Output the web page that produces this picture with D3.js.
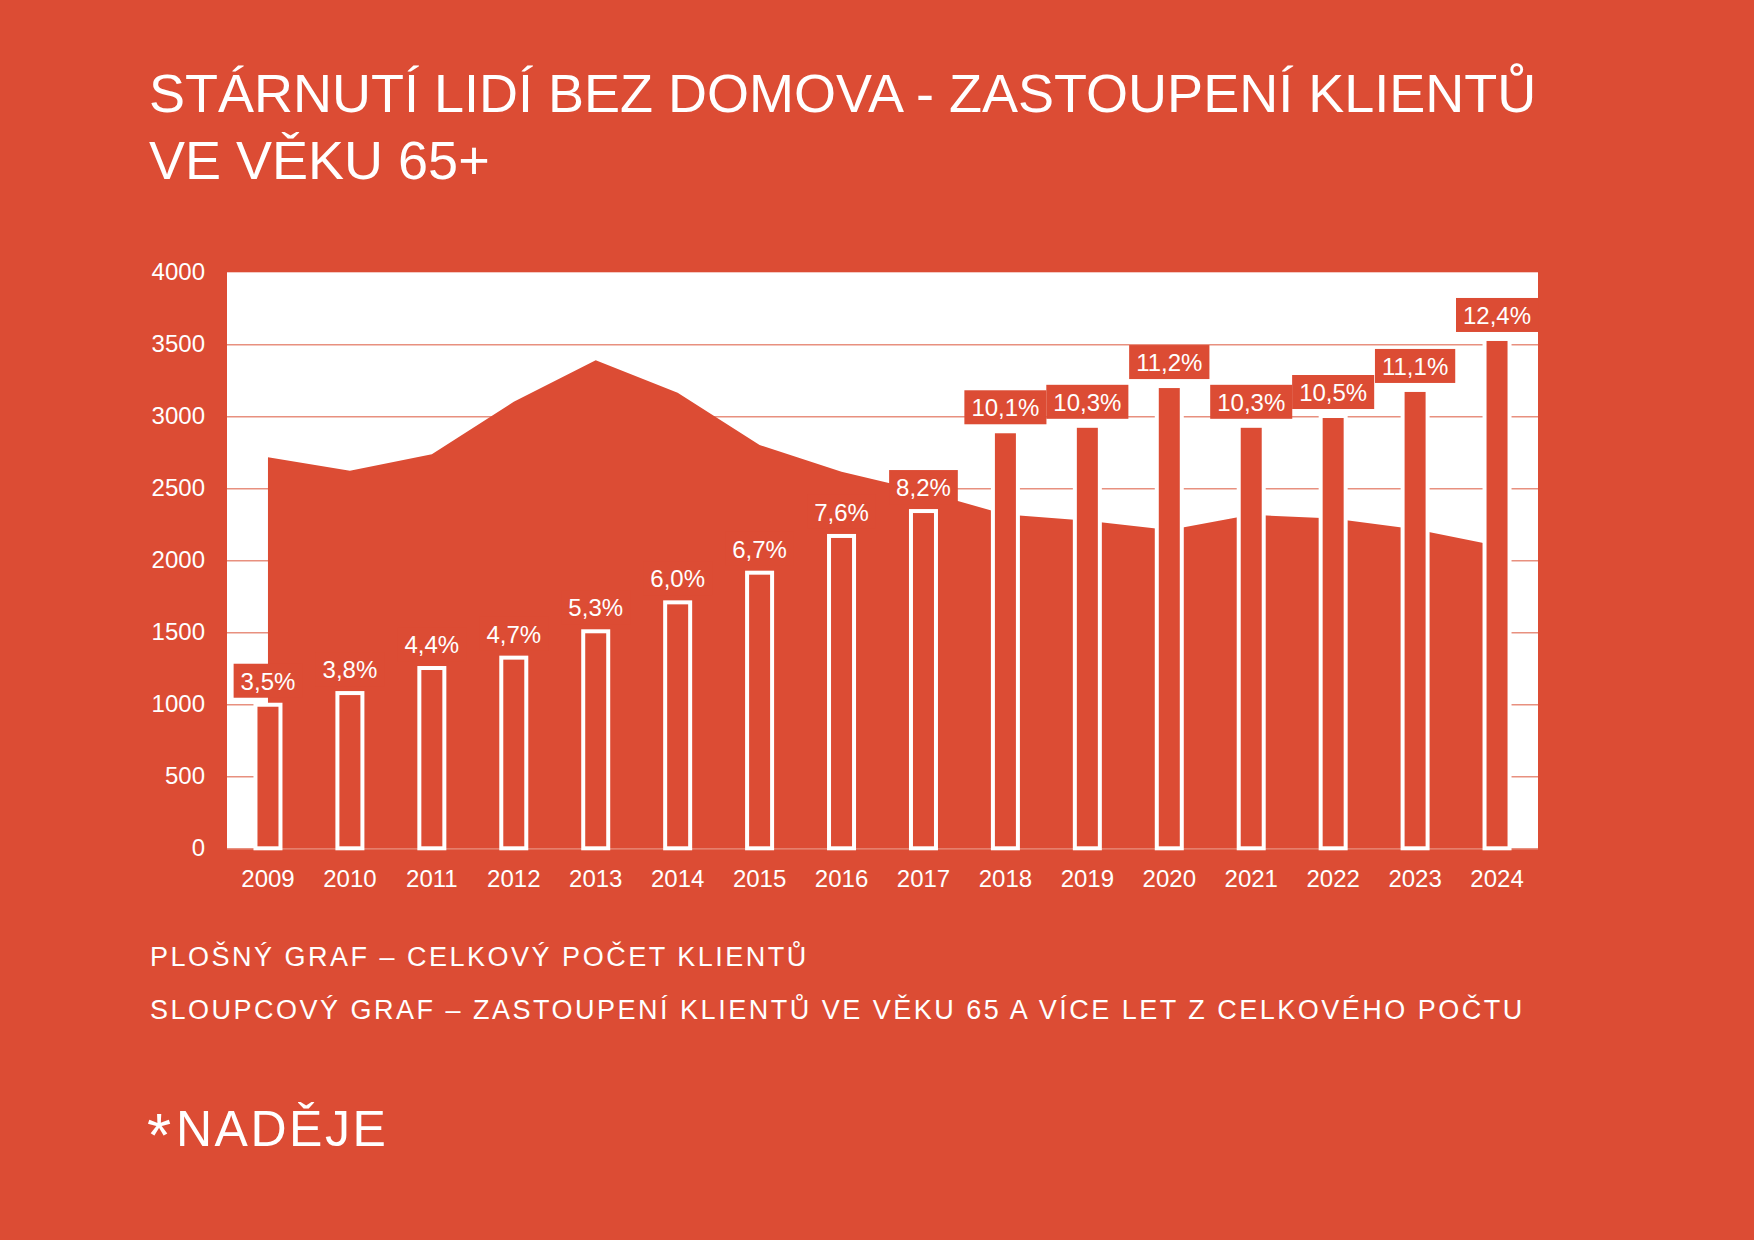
<!DOCTYPE html>
<html>
<head>
<meta charset="utf-8">
<script src="https://cdn.jsdelivr.net/npm/d3@7"></script>
<style>
  html, body { margin: 0; padding: 0; background: #dc4c34; }
  svg { display: block; font-family: "Liberation Sans", Arial, sans-serif; }
</style>
</head>
<body>
<svg id="chart" width="1754" height="1240"></svg>
<script>
// data
var years = ["2009","2010","2011","2012","2013","2014","2015","2016","2017","2018","2019","2020","2021","2022","2023","2024"];
var totalClients = [2715, 2622, 2736, 3101, 3389, 3164, 2801, 2615, 2480, 2318, 2275, 2210, 2316, 2290, 2216, 2101];
var seniorBars = [997, 1078, 1252, 1324, 1507, 1708, 1914, 2169, 2342, 2896, 2934, 3210, 2934, 3002, 3183, 3537];
var seniorShare = ["3,5%","3,8%","4,4%","4,7%","5,3%","6,0%","6,7%","7,6%","8,2%","10,1%","10,3%","11,2%","10,3%","10,5%","11,1%","12,4%"];
var yTicks = [0, 500, 1000, 1500, 2000, 2500, 3000, 3500, 4000];

var titleLines = ["STÁRNUTÍ LIDÍ BEZ DOMOVA - ZASTOUPENÍ KLIENTŮ", "VE VĚKU 65+"];
var noteLines = ["PLOŠNÝ GRAF – CELKOVÝ POČET KLIENTŮ",
                 "SLOUPCOVÝ GRAF – ZASTOUPENÍ KLIENTŮ VE VĚKU 65 A VÍCE LET Z CELKOVÉHO POČTU"];

var red = "#dc4c34", white = "#ffffff", gridColor = "#e8907f";
var plotLeft = 227, plotRight = 1538, plotTop = 272.3, plotBottom = 848.3;
var barWidth = 25;

var svg = d3.select("#chart");

svg.append("rect")
  .attr("width", 1754)
  .attr("height", 1240)
  .attr("fill", red);

// title
svg.selectAll(".title")
  .data(titleLines)
  .enter().append("text")
  .attr("class", "title")
  .attr("x", 149)
  .attr("y", function(d, i){ return 112 + i * 67; })
  .attr("fill", white)
  .style("font-size", "54px")
  .text(function(d){ return d; });

var xScale = d3.scaleBand()
  .domain(years)
  .range([plotLeft, plotRight])
  .padding(0);

var yScale = d3.scaleLinear()
  .domain([0, 4000])
  .range([plotBottom, plotTop]);

function xCenter(d){ return xScale(d) + xScale.bandwidth() / 2; }

// white plot area
svg.append("rect")
  .attr("x", plotLeft)
  .attr("y", plotTop)
  .attr("width", plotRight - plotLeft)
  .attr("height", plotBottom - plotTop)
  .attr("fill", white);

// y axis with gridlines
var yAxis = d3.axisLeft(yScale)
  .tickValues(yTicks)
  .tickSize(-(plotRight - plotLeft))
  .tickPadding(22)
  .tickFormat(d3.format("d"));

var yG = svg.append("g")
  .attr("class", "yAxis")
  .attr("transform", "translate(" + plotLeft + ",0)")
  .call(yAxis);

yG.select(".domain").remove();
yG.selectAll(".tick line")
  .attr("stroke", gridColor)
  .attr("stroke-width", 1.5)
  .attr("stroke-opacity", function(d){ return d == 4000 ? 0 : 1; });
yG.selectAll(".tick text")
  .attr("fill", white)
  .style("font-size", "24px")
  .style("font-family", "'Liberation Sans', Arial, sans-serif");

// area - total clients
var area = d3.area()
  .x(function(d, i){ return xCenter(years[i]); })
  .y0(yScale(0))
  .y1(function(d){ return yScale(d); });

svg.append("path")
  .datum(totalClients)
  .attr("d", area)
  .attr("fill", red);

// bars - clients 65+
svg.selectAll(".bar")
  .data(seniorBars)
  .enter().append("rect")
  .attr("class", "bar")
  .attr("x", function(d, i){ return xCenter(years[i]) - barWidth / 2; })
  .attr("y", function(d){ return yScale(d); })
  .attr("width", barWidth)
  .attr("height", function(d){ return yScale(0) - yScale(d); })
  .attr("fill", red)
  .attr("stroke", white)
  .attr("stroke-width", 4);

// value labels with red boxes
var labels = svg.selectAll(".valueLabel")
  .data(seniorShare)
  .enter().append("g")
  .attr("class", "valueLabel");

labels.append("rect")
  .attr("fill", red);

labels.append("text")
  .attr("x", function(d, i){ return xCenter(years[i]); })
  .attr("y", function(d, i){ return yScale(seniorBars[i]) - 15; })
  .attr("text-anchor", "middle")
  .attr("fill", white)
  .style("font-size", "24px")
  .text(function(d){ return d; });

labels.each(function(d, i){
  var g = d3.select(this);
  var w = g.select("text").node().getComputedTextLength() + 14;
  var top = yScale(seniorBars[i]);
  g.select("rect")
    .attr("x", xCenter(years[i]) - w / 2)
    .attr("y", top - 41)
    .attr("width", w)
    .attr("height", 34);
});

// x axis labels
var xAxis = d3.axisBottom(xScale)
  .tickSize(0)
  .tickPadding(22);

var xG = svg.append("g")
  .attr("class", "xAxis")
  .attr("transform", "translate(0," + plotBottom + ")")
  .call(xAxis);

xG.select(".domain").remove();
xG.selectAll(".tick text")
  .attr("fill", white)
  .style("font-size", "24px")
  .style("font-family", "'Liberation Sans', Arial, sans-serif");

// notes under the chart
svg.selectAll(".note")
  .data(noteLines)
  .enter().append("text")
  .attr("class", "note")
  .attr("x", 150)
  .attr("y", function(d, i){ return 966 + i * 53.3; })
  .attr("fill", white)
  .style("font-size", "27px")
  .style("letter-spacing", "2.5px")
  .text(function(d){ return d; });

// logo
svg.append("text")
  .attr("x", 147)
  .attr("y", 1156)
  .attr("fill", white)
  .style("font-size", "62px")
  .style("font-weight", "300")
  .text("*");

svg.append("text")
  .attr("x", 176)
  .attr("y", 1146)
  .attr("fill", white)
  .style("font-size", "50px")
  .style("letter-spacing", "2.5px")
  .text("NADĚJE");
</script>
</body>
</html>
